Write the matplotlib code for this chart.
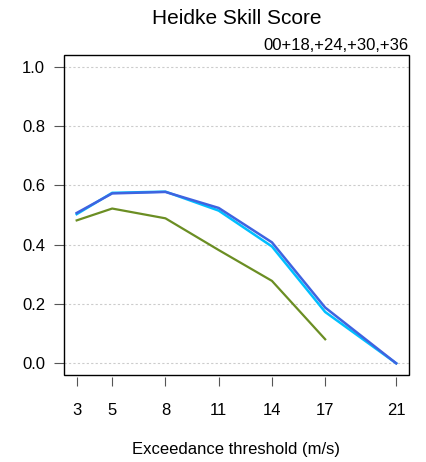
import matplotlib
matplotlib.use("Agg")
import matplotlib.pyplot as plt
from matplotlib.patches import Rectangle

plt.rcParams['font.family'] = ['Liberation Sans', 'DejaVu Sans']

thresholds = [3, 5, 8, 11, 14, 17, 21]
hss_blue = [0.507, 0.573, 0.578, 0.524, 0.408, 0.188, 0.0]
hss_cyan = [0.503, 0.575, 0.579, 0.515, 0.394, 0.173, 0.0]
green_thresholds = [3, 5, 8, 11, 14, 17]
hss_green = [0.482, 0.522, 0.489, 0.382, 0.278, 0.081]
y_ticks = [0.0, 0.2, 0.4, 0.6, 0.8, 1.0]

fig = plt.figure(figsize=(4.26, 4.62), dpi=100)
ax = fig.add_axes([0.150, 0.188, 0.810, 0.693])

for y in y_ticks:
    ax.axhline(y, color='#cccccc', lw=0.8, ls=(0, (2, 2)), zorder=0)

ax.plot(green_thresholds, hss_green, color='#6b8e23', lw=1.6)
ax.plot(thresholds, hss_cyan, color='#00bfff', lw=1.8)
ax.plot(thresholds, hss_blue, color='#3f63e0', lw=1.8)

ax.set_xlim(2.28, 21.72)
ax.set_ylim(-0.04, 1.04)
ax.set_xticks(thresholds)
ax.set_yticks(y_ticks)
ax.set_yticklabels(['%.1f' % v for v in y_ticks])

# R-style box with the x ticks set slightly off the frame
for s in ax.spines.values():
    s.set_visible(False)
ax.spines['bottom'].set_position(('outward', 1.5))
ax.add_patch(Rectangle((0, 0), 1, 1, transform=ax.transAxes, fill=False,
                       lw=1.0, ec='black', clip_on=False, zorder=5))

ax.tick_params(axis='x', direction='out', length=6.5, width=0.8, color='#555555',
               pad=12, labelsize=12)
ax.tick_params(axis='y', direction='out', length=7.5, width=0.8, color='#555555',
               pad=6, labelsize=12)

ax.set_xlabel('Exceedance threshold (m/s)', fontsize=12, labelpad=17)
fig.text(0.556, 0.961, 'Heidke Skill Score', ha='center', va='center', fontsize=15)
ax.text(1.0, 1.006, '00+18,+24,+30,+36', transform=ax.transAxes,
        ha='right', va='bottom', fontsize=12)

fig.savefig('out.png', dpi=100)
